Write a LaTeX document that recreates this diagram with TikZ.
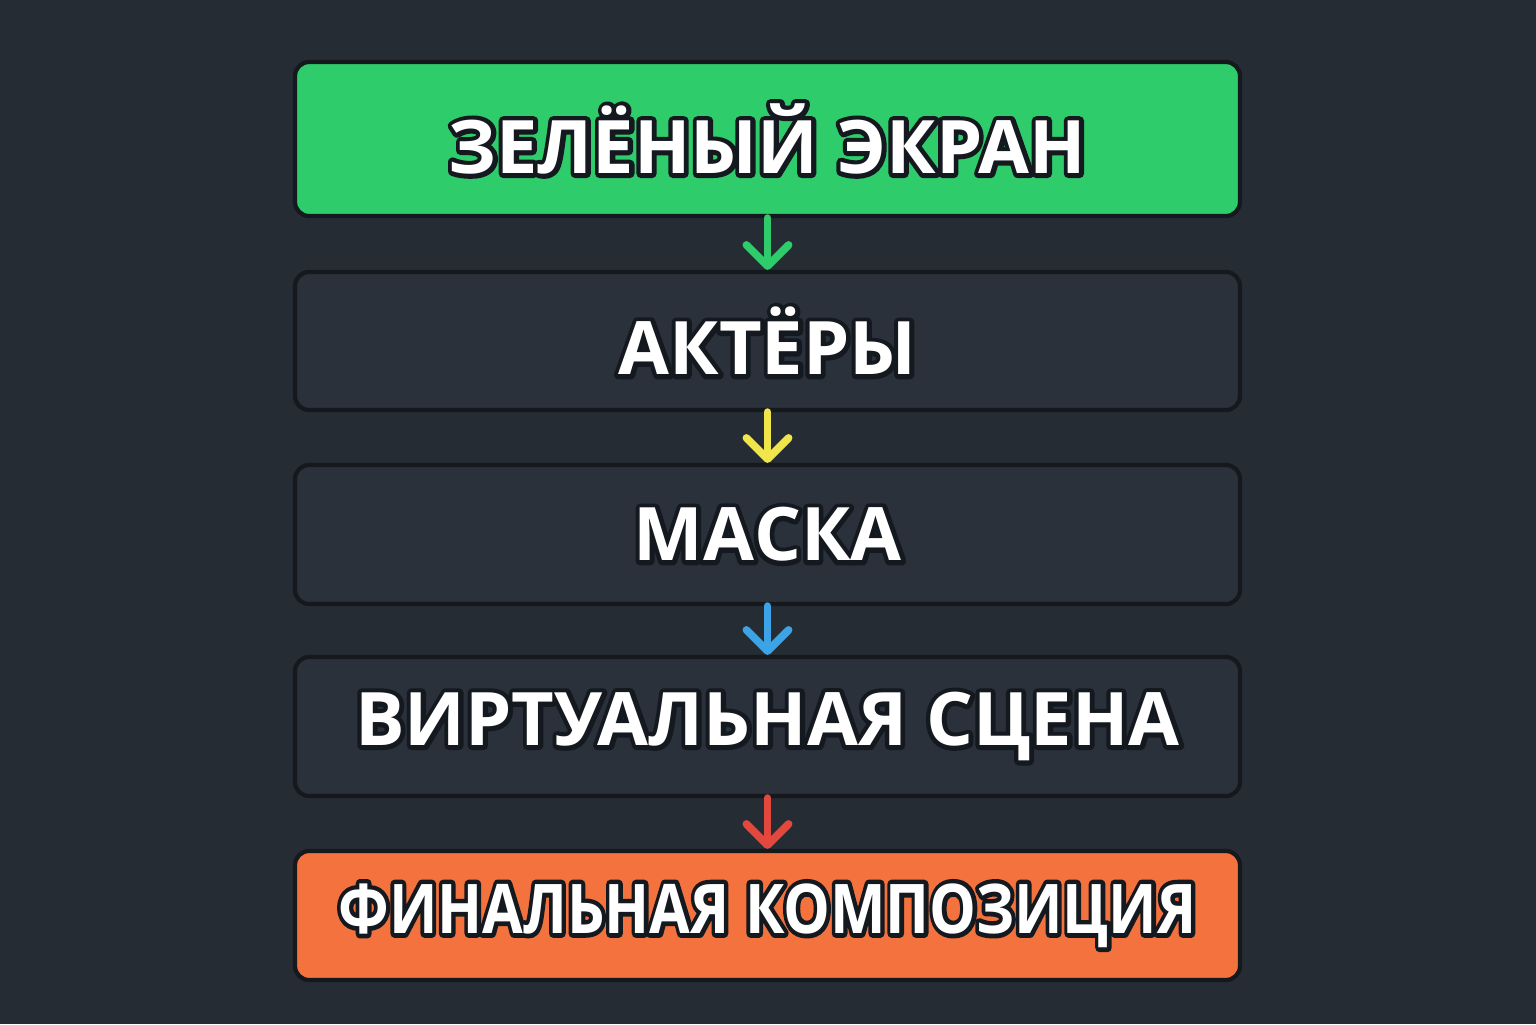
\documentclass[tikz,border=0pt]{standalone}
\usepackage{fontspec}
\setmainfont{Open Sans}
\usepackage{graphicx}
\usetikzlibrary{arrows.meta}

\definecolor{bgdark}{HTML}{262C33}
\definecolor{boxdark}{HTML}{2A313A}
\definecolor{edgedark}{HTML}{15191E}
\definecolor{greenbox}{HTML}{2FCC6B}
\definecolor{orangebox}{HTML}{F4723D}
\definecolor{yellowarrow}{HTML}{F0E54A}
\definecolor{bluearrow}{HTML}{3BA3E6}
\definecolor{redarrow}{HTML}{E2483D}

\tikzset{
  stagebox/.style={draw=edgedark, line width=1.2pt, rounded corners=4pt,
    fill=boxdark, minimum width=9.45cm, text=white,
    font=\fontsize{21}{25}\selectfont\bfseries},
  flowarrow/.style={line width=2.2pt, line cap=round,
    -{Straight Barb[length=6pt,width=12pt,round]}}
}

% outlined label: dark stroke copy underneath, white fill on top
\newcommand{\stagelabel}[1]{%
  \rlap{\special{pdf:literal direct 0.08 0.1 0.12 RG 1 j 1 Tr 2.6 w}#1\special{pdf:literal direct 0 Tr}}#1}

\begin{document}
\begin{tikzpicture}
        % Background
        \fill[bgdark] (0,0) rectangle (15.36,-10.24);
        \useasboundingbox (0,0) rectangle (15.36,-10.24);

        % Stages
        \node[stagebox, fill=greenbox, minimum height=1.54cm] (screen) at (7.675,-1.39) {\stagelabel{ЗЕЛЁНЫЙ ЭКРАН}};
        \node[stagebox, minimum height=1.38cm] (actors) at (7.675,-3.41) {\stagelabel{АКТЁРЫ}};
        \node[stagebox, minimum height=1.39cm] (mask) at (7.675,-5.345) {\stagelabel{МАСКА}};
        \node[stagebox, minimum height=1.39cm] (scene) at (7.675,-7.265) {\stagelabel{ВИРТУАЛЬНАЯ СЦЕНА}};
        \node[stagebox, fill=orangebox, minimum height=1.29cm, font=\fontsize{19.5}{23}\selectfont\bfseries] (final) at (7.675,-9.155)
          {\scalebox{0.86}[1]{\stagelabel{ФИНАЛЬНАЯ КОМПОЗИЦИЯ}}};

        % Arrows
        \draw[flowarrow, greenbox] (screen) -- (actors);
        \draw[flowarrow, yellowarrow] (actors) -- (mask);
        \draw[flowarrow, bluearrow] (mask) -- (scene);
        \draw[flowarrow, redarrow] (scene) -- (final);
    \end{tikzpicture}
\end{document}
